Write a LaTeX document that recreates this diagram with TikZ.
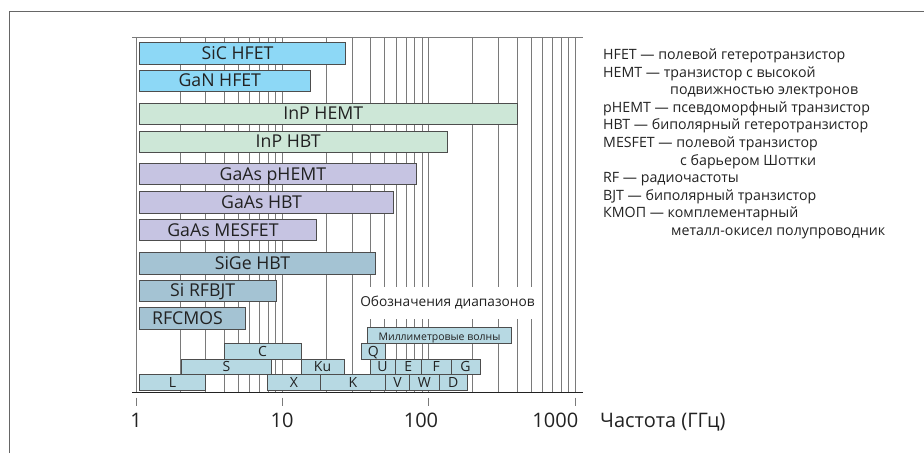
\documentclass[tikz,border=0pt]{standalone}
\usepackage{fontspec}
\setmainfont{Open Sans}
\definecolor{framegray}{HTML}{666666}
\definecolor{gridgray}{HTML}{7A7A7A}
\definecolor{edgegray}{HTML}{4D4D4D}
\definecolor{hfetblue}{HTML}{8DD8F6}
\definecolor{inpgreen}{HTML}{CDE7D7}
\definecolor{gaaslav}{HTML}{C6C4E2}
\definecolor{siblue}{HTML}{A4C3D3}
\definecolor{bandblue}{HTML}{B7D9E3}
\definecolor{inkdark}{HTML}{222222}
\newcommand\fsz[1]{\fontsize{#1}{#1}\selectfont}
% device bar: name, fill style, top y, right x, label
\newcommand\devbar[5]{%
  \draw[devbox,#2] (139.3,#3) rectangle (#4,{#3+21.3});
  \node[barlabel] (#1) at ({(139.3+#4)/2-5},{#3+16.6}) {#5};}
% band box: name, left, right, top, bottom, label
\newcommand\bandbox[6]{%
  \draw[bandrect] (#2,#4) rectangle (#3,#5);
  \node[bandlabel] (#1) at ({(#2+#3)/2},{#5-2.6}) {#6};}
\begin{document}
\begin{tikzpicture}[x=1pt,y=-1pt,
  gridline/.style={draw=gridgray, line width=1pt},
  devbox/.style={draw=edgegray, line width=1pt},
  bandrect/.style={draw=edgegray, line width=0.9pt, fill=bandblue},
  barlabel/.style={anchor=base, inner sep=0pt, text=inkdark, font=\fsz{17.7}},
  bandlabel/.style={anchor=base, inner sep=0pt, text=inkdark, font=\fsz{14}},
  legend/.style={anchor=base west, inner sep=0pt, text=inkdark, font=\fsz{14.2}},
  axislabel/.style={anchor=base, inner sep=0pt, text=inkdark, font=\fsz{20}}]
\useasboundingbox (0,0) rectangle (924,453);
\fill[white] (0,0) rectangle (924,453);
% outer frame (open at right and bottom)
\draw[framegray, line width=1.3pt] (9.5,453) -- (9.5,11.5) -- (924,11.5);

% logarithmic grid, 1 ... 1000 GHz
\foreach \k in {0,1,2}{
  \foreach \m in {1,...,9}{
    \pgfmathsetmacro\gx{136+146.45*(\k+log10(\m))}
    \draw[gridline] (\gx,37.3) -- (\gx,392.7);
  }
}
\draw[gridline] (575.5,37.3) -- (575.5,392.7);
\draw[gridline] (132,37.3) -- (583,37.3);

% device technology bars
\devbar{sic}{fill=hfetblue}{42.7}{345.7}{SiC HFET}
\devbar{gan}{fill=hfetblue}{70}{310.3}{GaN HFET}
\devbar{inphemt}{fill=inpgreen}{103.3}{517.3}{InP HEMT}
\devbar{inphbt}{fill=inpgreen}{131}{447}{InP HBT}
\devbar{gaasphemt}{fill=gaaslav}{163.5}{416.5}{GaAs pHEMT}
\devbar{gaashbt}{fill=gaaslav}{191.7}{393.7}{GaAs HBT}
\devbar{gaasmesfet}{fill=gaaslav}{219.5}{316.7}{GaAs MESFET}
\devbar{sigehbt}{fill=siblue}{252.7}{375.7}{SiGe HBT}
\devbar{sirfbjt}{fill=siblue}{280.3}{276}{Si RFBJT}
\devbar{rfcmos}{fill=siblue}{307.7}{245.7}{RFCMOS}

% caption of the band designations
\node[fill=white, inner xsep=4pt, minimum height=32pt, text=inkdark, font=\fsz{13.7}]
  (bandtitle) at (447.5,303) {Обозначения диапазонов};

% frequency band designations
\bandbox{mmw}{367.3}{511.7}{327.3}{343.3}{\fsz{10.5}Миллиметровые волны}
\bandbox{bc}{224}{301}{343.3}{359}{C}
\bandbox{bq}{361.5}{385}{343.3}{359}{Q}
\bandbox{bs}{181.7}{271}{359}{374.3}{S}
\bandbox{bku}{301}{344}{359}{374.3}{Ku}
\bandbox{bu}{370}{395}{359}{374.3}{U}
\bandbox{be}{395}{421.7}{359}{374.3}{E}
\bandbox{bf}{421.7}{451}{359}{374.3}{F}
\bandbox{bg}{451}{480}{359}{374.3}{G}
\bandbox{bl}{139.3}{205.7}{374.3}{390}{L}
\bandbox{bx}{267.7}{320.3}{374.3}{390}{X}
\bandbox{bk}{320.3}{385.7}{374.3}{390}{K}
\bandbox{bv}{385.7}{409.3}{374.3}{390}{V}
\bandbox{bw}{409.3}{439.3}{374.3}{390}{W}
\bandbox{bd}{439.3}{467.3}{374.3}{390}{D}

% frequency axis
\draw[inkdark, line width=1.1pt] (132,392.7) -- (583,392.7);
\foreach \k in {0,1,2,3}{
  \draw[gridgray, line width=1pt] ({136+146.45*\k},397.5) -- ({136+146.45*\k},405.5);
}
\node[axislabel] (tick1) at (136,427.5) {1};
\node[axislabel] (tick10) at (282,427.5) {10};
\node[axislabel] (tick100) at (421,427.5) {100};
\node[axislabel] (tick1000) at (555.3,427.5) {1000};
\node[axislabel, anchor=base west] (axtitle) at (600,427.5) {Частота (ГГц)};

% abbreviations
\node[legend] (l1) at (603,59.3) {HFET — полевой гетеротранзистор};
\node[legend] (l2) at (603,77) {HEMT — транзистор с высокой};
\node[legend] (l3) at (670,94.6) {подвижностью электронов};
\node[legend] (l4) at (603,112.2) {pHEMT — псевдоморфный транзистор};
\node[legend] (l5) at (603,129.8) {HBT — биполярный гетеротранзистор};
\node[legend] (l6) at (603,147.4) {MESFET — полевой транзистор};
\node[legend] (l7) at (680,165) {с барьером Шоттки};
\node[legend] (l8) at (603,182.6) {RF — радиочастоты};
\node[legend] (l9) at (603,200.2) {BJT — биполярный транзистор};
\node[legend] (l10) at (603,217.8) {КМОП — комплементарный};
\node[legend] (l11) at (671,235.4) {металл-окисел полупроводник};
\end{tikzpicture}
\end{document}
